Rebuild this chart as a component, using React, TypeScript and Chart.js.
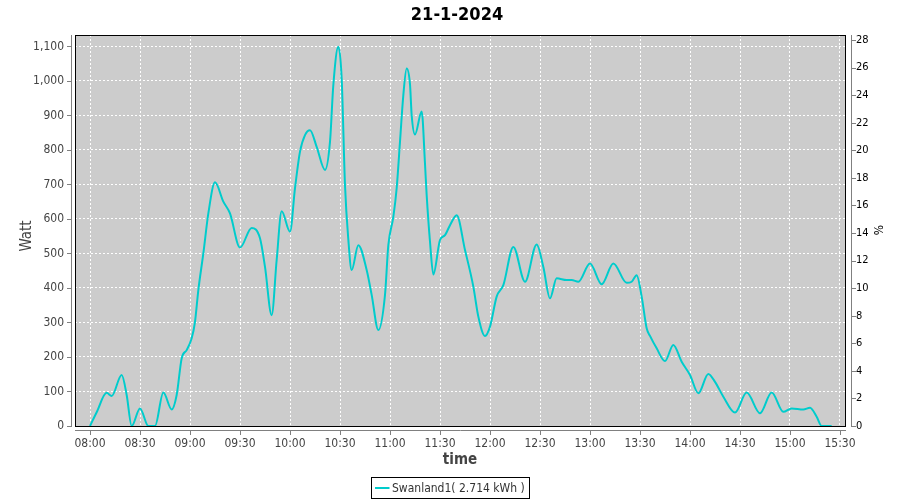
import React, { useEffect, useRef } from "react";
import { Chart, registerables } from "chart.js";

Chart.register(...registerables);

const TITLE = "21-1-2024";
const SERIES_NAME = "Swanland1( 2.714 kWh )";
const X_TITLE = "time";
const Y_TITLE = "Watt";
const Y2_TITLE = "%";

const times = [
  "08:00", "08:04", "08:10", "08:13", "08:19", "08:22", "08:25", "08:30", "08:35", "08:39",
  "08:44", "08:49", "08:52", "08:55", "08:58", "09:01", "09:03", "09:05", "09:08", "09:11",
  "09:15", "09:20", "09:24", "09:30", "09:37", "09:42", "09:45", "09:49", "09:52", "09:55",
  "10:00", "10:03", "10:06", "10:09", "10:12", "10:16", "10:21", "10:24", "10:26", "10:29",
  "10:31", "10:33", "10:35", "10:37", "10:41", "10:46", "10:49", "10:53", "10:57", "10:59",
  "11:02", "11:04", "11:06", "11:08", "11:10", "11:12", "11:13", "11:15", "11:19", "11:21",
  "11:22", "11:24", "11:26", "11:30", "11:33", "11:36", "11:40", "11:45", "11:50", "11:53",
  "11:57", "12:00", "12:04", "12:08", "12:14", "12:21", "12:28", "12:32", "12:36", "12:40",
  "12:46", "12:49", "12:53", "13:00", "13:07", "13:14", "13:22", "13:25", "13:28", "13:31",
  "13:34", "13:36", "13:40", "13:45", "13:50", "13:55", "14:00", "14:05", "14:11", "14:15",
  "14:20", "14:27", "14:34", "14:42", "14:49", "14:56", "15:01", "15:08", "15:12", "15:16",
  "15:19", "15:25",
];

const watts = [
  0, 40, 96, 87, 148, 90, 0, 51, 0, 0,
  97, 48, 90, 196, 220, 254, 302, 394, 500, 616,
  706, 650, 616, 517, 574, 544, 461, 321, 481, 622,
  563, 689, 795, 843, 857, 809, 742, 824, 988, 1099,
  1007, 698, 540, 452, 524, 452, 380, 278, 380, 524,
  606, 689, 824, 959, 1036, 990, 901, 845, 911, 760,
  669, 534, 439, 539, 553, 582, 611, 510, 404, 317,
  261, 288, 375, 408, 519, 418, 526, 461, 370, 428,
  423, 423, 418, 471, 411, 471, 415, 418, 437, 375,
  283, 261, 225, 188, 235, 186, 148, 95, 151, 128,
  85, 39, 97, 37, 97, 41, 51, 48, 53, 27,
  0, 0,
];

const xTickLabels = [
  "08:00", "08:30", "09:00", "09:30", "10:00", "10:30", "11:00", "11:30",
  "12:00", "12:30", "13:00", "13:30", "14:00", "14:30", "15:00", "15:30",
];
const wattTicks = [0, 100, 200, 300, 400, 500, 600, 700, 800, 900, 1000, 1100];
const pctTicks = [0, 2, 4, 6, 8, 10, 12, 14, 16, 18, 20, 22, 24, 26, 28];

const toMin = (s: string) => {
  const [h, m] = s.split(":").map(Number);
  return h * 60 + m;
};
const fmtMin = (v: number) => {
  const h = Math.floor(v / 60);
  const m = Math.round(v - h * 60);
  return String(h).padStart(2, "0") + ":" + String(m).padStart(2, "0");
};

const FONT = "'DejaVu Sans Condensed', 'DejaVu Sans', sans-serif";
const LINE_COLOR = "#00CCCC";

const decorPlugin = {
  id: "decor",
  beforeDraw(chart: any) {
    const { ctx, chartArea: a } = chart;
    ctx.save();
    ctx.fillStyle = "#ffffff";
    ctx.fillRect(0, 0, chart.width, chart.height);
    ctx.fillStyle = "#cccccc";
    ctx.fillRect(a.left, a.top, a.right - a.left, a.bottom - a.top);
    ctx.restore();
  },
  afterDraw(chart: any) {
    const { ctx, chartArea: a } = chart;
    const sx = chart.scales.x, sy = chart.scales.y, sy2 = chart.scales.y1;
    ctx.save();
    // plot border
    ctx.strokeStyle = "#000000";
    ctx.lineWidth = 1;
    ctx.strokeRect(a.left + 0.5, a.top + 0.5, a.right - a.left - 1, a.bottom - a.top);
    // axis lines
    ctx.strokeStyle = "#808080";
    ctx.beginPath();
    ctx.moveTo(a.left - 3.5, a.top);
    ctx.lineTo(a.left - 3.5, a.bottom);
    ctx.moveTo(a.left, a.bottom + 4.5);
    ctx.lineTo(a.right, a.bottom + 4.5);
    ctx.moveTo(a.right + 5.5, a.top);
    ctx.lineTo(a.right + 5.5, a.bottom);
    // tick marks
    sy.ticks.forEach((t: any) => {
      const y = Math.round(sy.getPixelForValue(t.value)) + 0.5;
      ctx.moveTo(a.left - 8, y);
      ctx.lineTo(a.left - 3, y);
    });
    sy2.ticks.forEach((t: any) => {
      const y = Math.round(sy2.getPixelForValue(t.value)) + 0.5;
      ctx.moveTo(a.right + 5, y);
      ctx.lineTo(a.right + 10, y);
    });
    sx.ticks.forEach((t: any) => {
      const x = Math.round(sx.getPixelForValue(t.value)) + 0.5;
      ctx.moveTo(x, a.bottom + 4);
      ctx.lineTo(x, a.bottom + 9);
    });
    ctx.stroke();

    // title
    ctx.fillStyle = "#000000";
    ctx.textAlign = "center";
    ctx.textBaseline = "middle";
    ctx.font = "bold 18px " + FONT;
    ctx.fillText(TITLE, 457, 15);

    // axis titles
    ctx.fillStyle = "#444444";
    ctx.font = "15px " + FONT;
    ctx.save();
    ctx.translate(27, 236);
    ctx.rotate(-Math.PI / 2);
    ctx.fillText(Y_TITLE, 0, 0);
    ctx.restore();
    ctx.font = "12px " + FONT;
    ctx.fillStyle = "#000000";
    ctx.save();
    ctx.translate(880, 230);
    ctx.rotate(-Math.PI / 2);
    ctx.fillText(Y2_TITLE, 0, 0);
    ctx.restore();
    ctx.fillStyle = "#444444";
    ctx.font = "bold 15px " + FONT;
    ctx.fillText(X_TITLE, 460, 460);

    // legend
    ctx.font = "12px " + FONT;
    const tw = ctx.measureText(SERIES_NAME).width;
    const boxW = tw + 25;
    const bx = Math.round(450 - boxW / 2) + 0.5;
    ctx.strokeStyle = "#000000";
    ctx.strokeRect(bx, 477.5, Math.round(boxW), 21);
    ctx.strokeStyle = LINE_COLOR;
    ctx.lineWidth = 2;
    ctx.beginPath();
    ctx.moveTo(bx + 3.5, 488);
    ctx.lineTo(bx + 18, 488);
    ctx.stroke();
    ctx.fillStyle = "#333333";
    ctx.textAlign = "left";
    ctx.fillText(SERIES_NAME, bx + 20.5, 488.5);
    ctx.restore();
  },
};

export default function App() {
  const ref = useRef<HTMLCanvasElement | null>(null);
  useEffect(() => {
    if (!ref.current) return;
    const chart = new Chart(ref.current, {
      type: "line",
      data: {
        datasets: [
          {
            label: SERIES_NAME,
            data: times.map((t, i) => ({ x: toMin(t), y: watts[i] })),
            borderColor: LINE_COLOR,
            borderWidth: 2,
            pointRadius: 0,
            fill: false,
            cubicInterpolationMode: "monotone",
            yAxisID: "y",
            xAxisID: "x",
          },
        ],
      },
      options: {
        animation: false,
        responsive: false,
        layout: { padding: { top: 35, bottom: 0, left: 0, right: 0 } },
        plugins: {
          legend: { display: false },
          title: { display: false },
          tooltip: { enabled: false },
        },
        scales: {
          x: {
            type: "linear",
            position: "bottom",
            min: 471,
            max: 933.6,
            afterBuildTicks: (s: any) => {
              s.ticks = xTickLabels.map((l) => ({ value: toMin(l) }));
            },
            afterFit: (s: any) => {
              s.height = 74;
            },
            ticks: {
              callback: (v: any) => fmtMin(Number(v)),
              font: { family: FONT, size: 12 },
              color: "#444444",
              padding: 3,
              maxRotation: 0,
              autoSkip: false,
            },
            grid: { color: "#ffffff", tickColor: "transparent", tickLength: 8, lineWidth: 1 },
            border: { display: false, dash: [2, 2] },
          },
          y: {
            type: "linear",
            position: "left",
            min: 0,
            max: 1133,
            afterBuildTicks: (s: any) => {
              s.ticks = wattTicks.map((v) => ({ value: v }));
            },
            afterFit: (s: any) => {
              s.width = 75;
            },
            ticks: {
              callback: (v: any) => Number(v).toLocaleString("en-US"),
              font: { family: FONT, size: 12 },
              color: "#444444",
              padding: 3,
            },
            grid: { color: "#ffffff", tickColor: "transparent", tickLength: 8, lineWidth: 1 },
            border: { display: false, dash: [2, 2] },
          },
          y1: {
            type: "linear",
            position: "right",
            min: 0,
            max: 28.36,
            afterBuildTicks: (s: any) => {
              s.ticks = pctTicks.map((v) => ({ value: v }));
            },
            afterFit: (s: any) => {
              s.width = 54;
            },
            ticks: {
              callback: (v: any) => String(v),
              font: { family: FONT, size: 11 },
              color: "#000000",
              padding: 2,
            },
            grid: { drawOnChartArea: false, color: "transparent", tickColor: "transparent", tickLength: 8 },
            border: { display: false },
          },
        },
      },
      plugins: [decorPlugin],
    } as any);
    return () => chart.destroy();
  }, []);
  return (
    <div style={{ position: "fixed", left: 0, top: 0, width: 900, height: 500, background: "#fff" }}>
      <canvas ref={ref} width={900} height={500} style={{ display: "block", width: 900, height: 500 }} />
    </div>
  );
}
